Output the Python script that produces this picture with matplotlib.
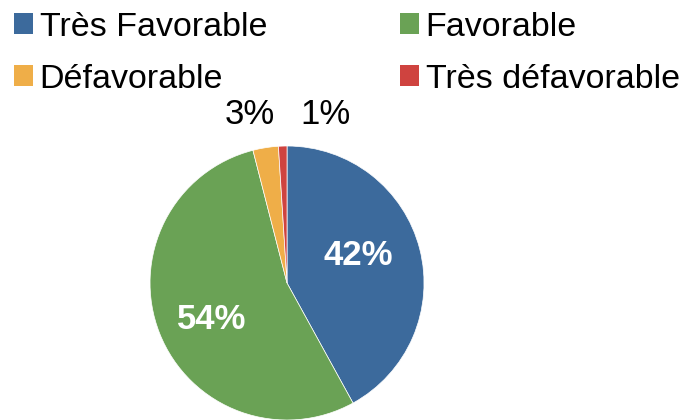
import matplotlib.pyplot as plt
from matplotlib.patches import Patch

plt.rcParams['font.family'] = ['Liberation Sans', 'DejaVu Sans']

categories = ['Très Favorable', 'Favorable', 'Défavorable', 'Très défavorable']
values = [42, 54, 3, 1]
colors = ['#3C6A9C', '#6AA255', '#EFAE48', '#CF433F']

fig = plt.figure(figsize=(6.86, 4.2), dpi=100)

# pie area, equal aspect
ax = fig.add_axes([0.2187, 0.0, 0.3994, 0.6524])
wedges, _ = ax.pie(values, colors=colors, startangle=90, counterclock=False,
                   radius=1, wedgeprops=dict(edgecolor='white', linewidth=0.5))
ax.set_xlim(-1, 1)
ax.set_ylim(-1, 1)
ax.set_aspect('equal')

# percentages: big slices inside in white bold, small ones above the pie
ax.text(0.52, 0.2, f'{values[0]}%', color='white', fontsize=25, fontweight='bold',
        ha='center', va='center')
ax.text(-0.55, -0.27, f'{values[1]}%', color='white', fontsize=25, fontweight='bold',
        ha='center', va='center')
ax.text(-0.27, 1.23, f'{values[2]}%', color='black', fontsize=25,
        ha='center', va='center', clip_on=False)
ax.text(0.28, 1.23, f'{values[3]}%', color='black', fontsize=25,
        ha='center', va='center', clip_on=False)

# legend filled row by row: reorder for matplotlib's column-first layout
order = [0, 2, 1, 3]
handles = [Patch(facecolor=colors[i], edgecolor='none') for i in order]
labels = [categories[i] for i in order]
fig.legend(handles, labels, ncol=2, loc='upper left',
           bbox_to_anchor=(0.020, 0.972), frameon=False, fontsize=24.5,
           handlelength=0.56, handleheight=0.56, handletextpad=0.2,
           columnspacing=3.9, labelspacing=0.62, borderaxespad=0.0,
           borderpad=0.0)

fig.savefig('out.png', dpi=100)
